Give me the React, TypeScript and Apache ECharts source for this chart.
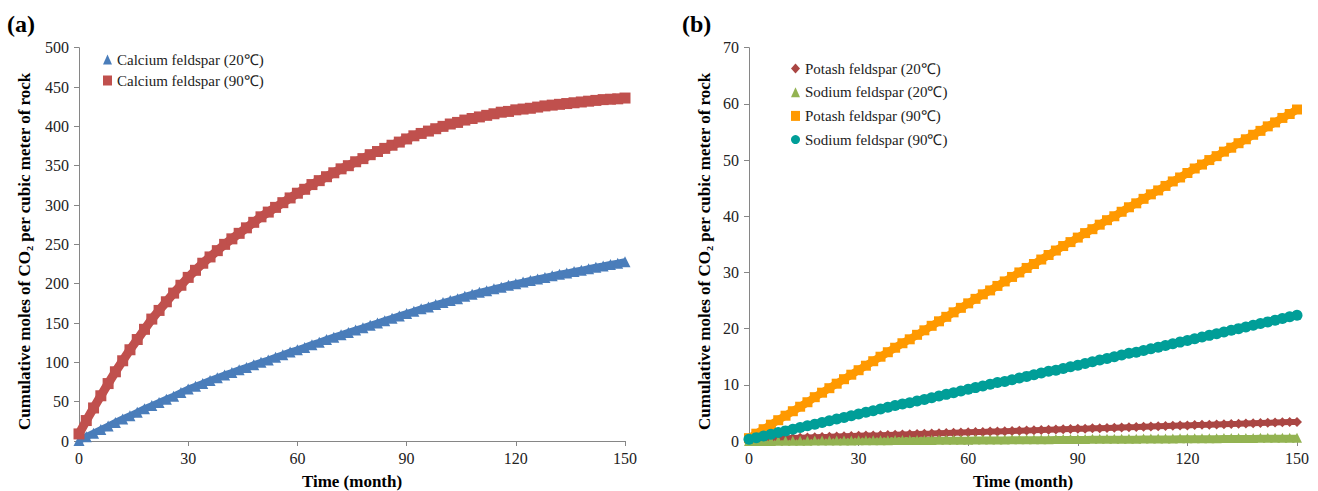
import React, { useEffect, useRef } from "react";
import * as echarts from "echarts";

// Time (month), sampled every 2 months
const months = [
  0, 2, 4, 6, 8, 10, 12, 14, 16, 18,
  20, 22, 24, 26, 28, 30, 32, 34, 36, 38,
  40, 42, 44, 46, 48, 50, 52, 54, 56, 58,
  60, 62, 64, 66, 68, 70, 72, 74, 76, 78,
  80, 82, 84, 86, 88, 90, 92, 94, 96, 98,
  100, 102, 104, 106, 108, 110, 112, 114, 116, 118,
  120, 122, 124, 126, 128, 130, 132, 134, 136, 138,
  140, 142, 144, 146, 148, 150,
];

// Panel (a)
const calcium20 = [
  0.5, 5.5, 10, 14.5, 19, 23.5, 28, 32, 36.5, 41,
  45, 49, 53, 57, 61.5, 66, 69.5, 73, 77, 80.5,
  84, 87, 90.5, 93.5, 97, 100, 103, 106.5, 109.5, 113,
  116, 119, 122.5, 125.5, 129, 132, 135, 138, 141, 144,
  147, 150, 153, 156, 159, 162, 165, 168, 170.5, 173.5,
  176, 178.5, 181, 184, 186.5, 189, 191, 193.5, 195.5, 198,
  200, 202, 204, 206, 208, 210, 212, 213.5, 215.5, 217,
  219, 221, 222.5, 224.5, 226, 228,
];
const calcium90 = [
  9, 26, 42, 57.5, 73, 88, 102, 116, 129, 142,
  155, 166, 177, 188, 198, 208, 217, 226, 234, 242,
  250, 257, 264, 271, 278, 285, 291, 297, 303, 309,
  315, 320, 326, 331, 336, 341, 346, 350, 355, 359,
  364, 368, 372, 376, 380, 384, 388, 391, 394, 397,
  400, 403, 405, 408, 410, 412, 414, 416, 418, 419,
  421, 422, 423, 424.5, 426, 427, 428, 429, 430, 431,
  432, 433, 434, 434.5, 435, 436,
];

// Panel (b)
const potash20 = [
  0.3, 0.34, 0.38, 0.42, 0.46, 0.51, 0.55, 0.59, 0.63, 0.67,
  0.71, 0.75, 0.8, 0.84, 0.88, 0.92, 0.96, 1.0, 1.04, 1.09,
  1.13, 1.17, 1.21, 1.25, 1.29, 1.33, 1.38, 1.42, 1.46, 1.5,
  1.54, 1.58, 1.62, 1.67, 1.71, 1.75, 1.79, 1.83, 1.87, 1.91,
  1.96, 2.0, 2.04, 2.08, 2.12, 2.16, 2.2, 2.25, 2.29, 2.33,
  2.37, 2.41, 2.45, 2.49, 2.54, 2.58, 2.62, 2.66, 2.7, 2.74,
  2.78, 2.83, 2.87, 2.91, 2.95, 2.99, 3.03, 3.07, 3.12, 3.16,
  3.2, 3.24, 3.28, 3.32, 3.36, 3.4,
];
const sodium20 = [
  0.0, 0.01, 0.02, 0.02, 0.03, 0.04, 0.05, 0.06, 0.06, 0.07,
  0.08, 0.09, 0.1, 0.1, 0.11, 0.12, 0.13, 0.14, 0.14, 0.15,
  0.16, 0.17, 0.18, 0.18, 0.19, 0.2, 0.21, 0.22, 0.22, 0.23,
  0.24, 0.25, 0.26, 0.26, 0.27, 0.28, 0.29, 0.3, 0.3, 0.31,
  0.32, 0.33, 0.34, 0.34, 0.35, 0.36, 0.37, 0.38, 0.38, 0.39,
  0.4, 0.41, 0.42, 0.42, 0.43, 0.44, 0.45, 0.46, 0.46, 0.47,
  0.48, 0.49, 0.5, 0.5, 0.51, 0.52, 0.53, 0.54, 0.54, 0.55,
  0.56, 0.57, 0.58, 0.58, 0.59, 0.6,
];
const potash90 = [
  0.5, 1.3, 2.1, 2.9, 3.7, 4.5, 5.3, 6.1, 6.9, 7.8,
  8.6, 9.4, 10.2, 11.0, 11.8, 12.6, 13.4, 14.2, 15.0, 15.8,
  16.6, 17.4, 18.1, 18.9, 19.7, 20.5, 21.3, 22.1, 22.9, 23.7,
  24.5, 25.3, 26.1, 26.8, 27.6, 28.4, 29.2, 30.0, 30.8, 31.5,
  32.3, 33.1, 33.9, 34.7, 35.4, 36.2, 37.0, 37.7, 38.5, 39.3,
  40.0, 40.8, 41.6, 42.3, 43.1, 43.9, 44.6, 45.4, 46.2, 46.9,
  47.7, 48.5, 49.2, 50.0, 50.7, 51.5, 52.2, 53.0, 53.7, 54.5,
  55.2, 56.0, 56.7, 57.5, 58.2, 59.0,
];
const sodium90 = [
  0.3, 0.6, 0.9, 1.2, 1.5, 1.8, 2.1, 2.4, 2.7, 3.0,
  3.3, 3.6, 3.9, 4.2, 4.5, 4.8, 5.1, 5.4, 5.7, 6.0,
  6.3, 6.6, 6.8, 7.1, 7.4, 7.7, 8.0, 8.3, 8.6, 8.9,
  9.2, 9.5, 9.8, 10.1, 10.4, 10.6, 10.9, 11.2, 11.5, 11.8,
  12.1, 12.4, 12.6, 12.9, 13.2, 13.5, 13.8, 14.1, 14.4, 14.7,
  15.0, 15.3, 15.6, 15.8, 16.1, 16.4, 16.7, 17.0, 17.3, 17.6,
  17.9, 18.2, 18.5, 18.8, 19.1, 19.4, 19.7, 20.0, 20.3, 20.6,
  20.9, 21.2, 21.5, 21.8, 22.1, 22.4,
];

const namesA = ["Calcium feldspar (20℃)", "Calcium feldspar (90℃)"];
const namesB = [
  "Potash feldspar (20℃)",
  "Sodium feldspar (20℃)",
  "Potash feldspar (90℃)",
  "Sodium feldspar (90℃)",
];

const yNameText = "Cumulative moles of CO₂ per cubic meter of rock";
const xNameText = "Time (month)";

function pairs(xs: number[], ys: number[]) {
  return xs.map((x, i) => [x, ys[i]]);
}

export default function App() {
  const ref = useRef<HTMLDivElement>(null);

  useEffect(() => {
    document.body.style.margin = "0";
    if (!ref.current) return;
    const chart = echarts.init(ref.current, null, { renderer: "svg" });
    const font = "Liberation Serif";
    const axisLine = { show: true, onZero: false, lineStyle: { color: "#868686", width: 1 } };
    const axisTick = { show: true, inside: false, length: 5, lineStyle: { color: "#868686" } };
    const label = { color: "#222", fontFamily: font, fontSize: 16 };

    const xAxisBase = (gridIndex: number) => ({
      type: "value",
      gridIndex,
      min: 0,
      max: 150,
      interval: 30,
      axisLine,
      axisTick,
      splitLine: { show: false },
      axisLabel: { ...label, margin: 9 },
      name: xNameText,
      nameLocation: "middle",
      nameGap: 32,
      nameTextStyle: { fontFamily: font, fontSize: 17, fontWeight: "bold", color: "#000" },
    });

    const yAxisBase = (gridIndex: number, max: number, interval: number, gap: number) => ({
      type: "value",
      gridIndex,
      min: 0,
      max,
      interval,
      axisLine,
      axisTick,
      splitLine: { show: false },
      axisLabel: { ...label, margin: 10 },
      name: yNameText,
      nameLocation: "middle",
      nameRotate: 90,
      nameGap: gap,
      nameTextStyle: {
        fontFamily: font,
        fontSize: 17,
        fontWeight: "bold",
        color: "#000",
        padding: [0, 14, 0, 0],
      },
    });

    const mk = (
      name: string,
      data: number[],
      color: string,
      symbol: string,
      size: number,
      axis: number,
      lw: number
    ) => ({
      type: "line",
      name,
      xAxisIndex: axis,
      yAxisIndex: axis,
      data: pairs(months, data),
      symbol,
      symbolSize: size,
      showSymbol: true,
      itemStyle: { color, borderWidth: 0 },
      lineStyle: { color, width: lw },
      emphasis: { disabled: true },
    });

    const option = {
      animation: false,
      backgroundColor: "#fff",
      title: [
        {
          text: "(a)",
          left: 7,
          top: 12,
          padding: 0,
          textStyle: { fontFamily: font, fontSize: 24, fontWeight: "bold", color: "#000" },
        },
        {
          text: "(b)",
          left: 682,
          top: 12,
          padding: 0,
          textStyle: { fontFamily: font, fontSize: 24, fontWeight: "bold", color: "#000" },
        },
      ],
      legend: [
        {
          orient: "vertical",
          left: 103,
          top: 52,
          padding: 0,
          itemWidth: 9,
          itemHeight: 10,
          itemGap: 6,
          textStyle: { fontFamily: font, fontSize: 15, color: "#222" },
          data: [
            { name: namesA[0], icon: "triangle" },
            { name: namesA[1], icon: "rect" },
          ],
        },
        {
          orient: "vertical",
          left: 791,
          top: 61,
          padding: 0,
          itemWidth: 9,
          itemHeight: 10,
          itemGap: 8.7,
          textStyle: { fontFamily: font, fontSize: 15, color: "#222" },
          data: [
            { name: namesB[0], icon: "diamond" },
            { name: namesB[1], icon: "triangle" },
            { name: namesB[2], icon: "rect" },
            { name: namesB[3], icon: "circle" },
          ],
        },
      ],
      grid: [
        { left: 79, top: 47.7, width: 546, height: 393.3, containLabel: false, outerBoundsMode: "none" },
        { left: 749, top: 47.7, width: 548, height: 393.3, containLabel: false, outerBoundsMode: "none" },
      ],
      xAxis: [xAxisBase(0), xAxisBase(1)],
      yAxis: [yAxisBase(0, 500, 50, 46), yAxisBase(1, 70, 10, 36)],
      series: [
        mk(namesA[0], calcium20, "#4A7DBA", "triangle", 11, 0, 7),
        mk(namesA[1], calcium90, "#C0504D", "rect", 11, 0, 9),
        mk(namesB[0], potash20, "#AA4643", "diamond", 10, 1, 6),
        mk(namesB[1], sodium20, "#93B352", "triangle", 10, 1, 6),
        mk(namesB[2], potash90, "#FF9900", "rect", 10, 1, 8),
        mk(namesB[3], sodium90, "#009E98", "circle", 11, 1, 8),
      ],
    };

    chart.setOption(option as any);
    return () => chart.dispose();
  }, []);

  return <div ref={ref} style={{ width: 1318, height: 491 }} />;
}
